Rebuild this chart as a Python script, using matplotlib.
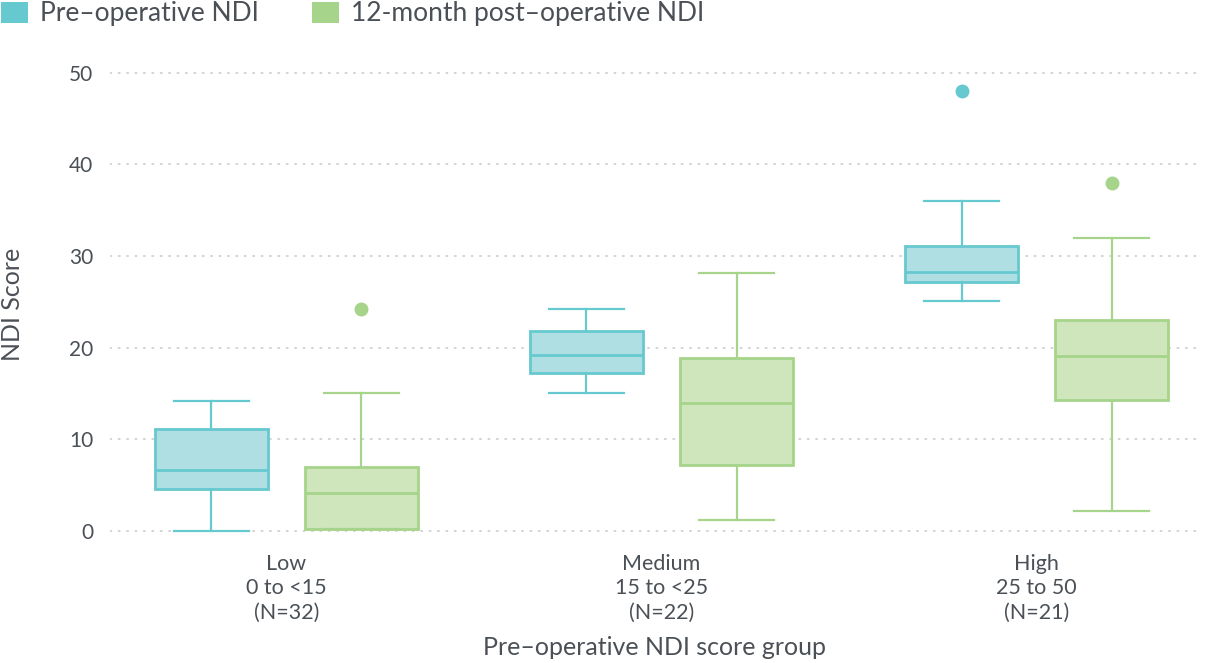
import matplotlib.pyplot as plt
from matplotlib.patches import Patch

plt.rcParams['font.family'] = ['Lato', 'DejaVu Sans']

groups = ['Low\n0 to <15\n(N=32)', 'Medium\n15 to <25\n(N=22)', 'High\n25 to 50\n(N=21)']
series = ['Pre\u2013operative NDI', '12-month post\u2013operative NDI']

# five-number summaries: whislo, q1, med, q3, whishi
pre_stats = [[0.0, 4.6, 6.7, 11.1, 14.2],
             [15.1, 17.2, 19.2, 21.8, 24.2],
             [25.1, 27.1, 28.2, 31.1, 36.0]]
post_stats = [[0.2, 0.2, 4.1, 7.0, 15.1],
              [1.2, 7.2, 14.0, 18.9, 28.1],
              [2.2, 14.3, 19.1, 23.0, 31.9]]
pre_fliers = [[], [], [48.0]]
post_fliers = [[24.2], [], [38.0]]

edge_colors = ['#66c9d0', '#a5d48a']
fill_colors = ['#b0dfe3', '#cfe5bb']
text_color = '#4a5056'

fig = plt.figure(figsize=(12.12, 6.63), dpi=100)
ax = fig.add_axes([0.0908, 0.1784, 0.8992, 0.7399])

offsets = [-0.2, 0.2]
for k, (stats, fliers) in enumerate([(pre_stats, pre_fliers), (post_stats, post_fliers)]):
    bstats = []
    for s, f in zip(stats, fliers):
        bstats.append(dict(whislo=s[0], q1=s[1], med=s[2], q3=s[3], whishi=s[4], fliers=f))
    ec = edge_colors[k]
    ax.bxp(bstats, positions=[i + offsets[k] for i in range(len(groups))],
           widths=0.3, capwidths=0.2, patch_artist=True,
           boxprops=dict(facecolor=fill_colors[k], edgecolor=ec, linewidth=2.0),
           medianprops=dict(color=ec, linewidth=2.0),
           whiskerprops=dict(color=ec, linewidth=1.6),
           capprops=dict(color=ec, linewidth=1.6),
           flierprops=dict(marker='o', markerfacecolor=ec, markeredgecolor=ec, markersize=9),
           zorder=3)

ax.set_xlim(-0.47, 2.435)
ax.set_ylim(-1.5, 52)
ax.set_yticks([0, 10, 20, 30, 40, 50])
ax.set_xticks(range(len(groups)))
ax.set_xticklabels(groups, linespacing=1.25)
ax.tick_params(length=0, colors=text_color)
ax.tick_params(axis='y', pad=12, labelsize=15)
ax.tick_params(axis='x', pad=7, labelsize=15.5)
ax.yaxis.grid(True, color='#c8c8c8', linewidth=1.1, linestyle=(0, (1, 4.5)),
              dash_capstyle='round')
ax.set_axisbelow(True)
for sp in ax.spines.values():
    sp.set_visible(False)

ax.set_ylabel('NDI Score', fontsize=18, color=text_color)
ax.yaxis.set_label_coords(-0.079, 0.49)
ax.set_xlabel('Pre\u2013operative NDI score group', fontsize=18, color=text_color, labelpad=10)

handles = [Patch(facecolor=edge_colors[0], edgecolor='none'),
           Patch(facecolor=edge_colors[1], edgecolor='none')]
fig.legend(handles, series, loc='upper left', bbox_to_anchor=(0.0, 1.0), ncol=2,
           frameon=False, fontsize=19, handlelength=1.02, handleheight=0.85,
           handletextpad=0.45, columnspacing=2.0, borderaxespad=0.0, borderpad=0.05,
           labelcolor=text_color)

fig.savefig('out.png', dpi=100)
